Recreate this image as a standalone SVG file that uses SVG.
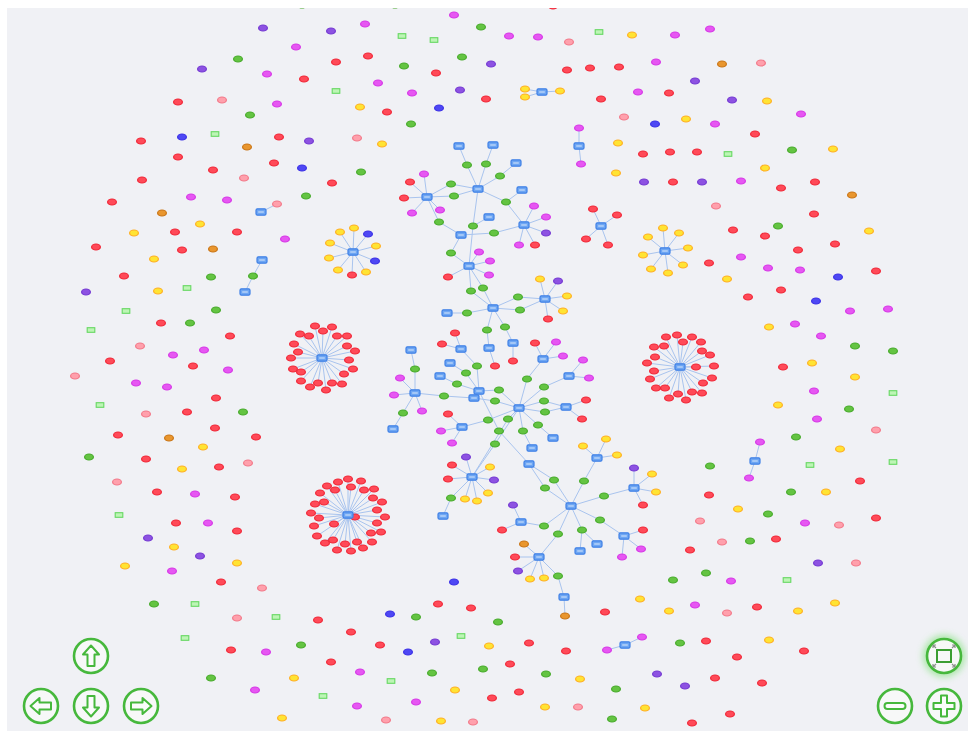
<svg xmlns="http://www.w3.org/2000/svg" width="968" height="731" viewBox="0 0 968 731">
<style>
.e path{stroke:#a9c4ee;stroke-width:1;fill:none}
.btn{fill:#f7f8f8;stroke:#46b83c;stroke-width:2.6}
.ic{fill:#fbfcfb;stroke:#46b83c;stroke-width:2;stroke-linejoin:round}
</style>
<defs>
<clipPath id="cp"><rect x="7" y="8" width="961" height="723"/></clipPath>
<ellipse id="r" rx="4.4" ry="3" fill="#ff4a58" stroke="#f02636" stroke-width="1.2"/>
<ellipse id="m" rx="4.4" ry="3" fill="#e657f2" stroke="#d636e6" stroke-width="1.2"/>
<ellipse id="g" rx="4.4" ry="3" fill="#64c442" stroke="#46aa2a" stroke-width="1.2"/>
<ellipse id="y" rx="4.4" ry="3" fill="#ffe433" stroke="#ffae22" stroke-width="1.2"/>
<ellipse id="p" rx="4.4" ry="3" fill="#8d52e2" stroke="#7338d2" stroke-width="1.2"/>
<ellipse id="b" rx="4.4" ry="3" fill="#4e48f4" stroke="#3a2fe6" stroke-width="1.2"/>
<ellipse id="k" rx="4.4" ry="3" fill="#ffa0ac" stroke="#f27888" stroke-width="1.2"/>
<ellipse id="o" rx="4.4" ry="3" fill="#e9962e" stroke="#c97414" stroke-width="1.2"/>
<rect id="l" x="-3.8" y="-2.3" width="7.6" height="4.6" fill="#bdf5b5" stroke="#66d862" stroke-width="1.1"/>
<g id="x"><rect x="-5" y="-3.2" width="10" height="6.4" rx="1.4" fill="#6ea6f3" stroke="#3f80e6" stroke-width="1.2"/><rect x="-2.8" y="-0.9" width="5.6" height="1.8" fill="#a9cbf8"/></g>
<polygon id="arr" points="0,-10.5 8,-1.5 3.5,-1.5 3.5,10 -3.5,10 -3.5,-1.5 -8,-1.5"/>
<filter id="glow" x="-50%" y="-50%" width="200%" height="200%"><feGaussianBlur stdDeviation="3.5"/></filter>
</defs>
<rect x="0" y="0" width="968" height="731" fill="#ffffff"/>
<rect x="7" y="8" width="961" height="723" fill="#f0f1f5"/>
<g clip-path="url(#cp)">
<g id="connectors" class="e">
<path d="M478 189L467 165M467 165L459 146M478 189L486 164M486 164L493 145M478 189L500 176M500 176L516 163M478 189L506 202M506 202L522 190M506 202L524 225M478 189L451 184M451 184L427 197M478 189L454 196M454 196L427 197M478 189L473 226M473 226L489 217M473 226L469 266"/>
<path d="M427 197L424 174M427 197L410 182M427 197L404 198M427 197L412 213M427 197L440 210M427 197L439 222M439 222L461 235M461 235L494 233M494 233L524 225M461 235L451 253M451 253L469 266"/>
<path d="M524 225L534 206M524 225L546 217M524 225L546 233M524 225L535 245M524 225L519 245M469 266L479 252M469 266L490 261M469 266L489 275M469 266L448 277"/>
<path d="M469 266L471 291M471 291L493 308M469 266L483 288M483 288L493 308M493 308L467 313M467 313L447 313M493 308L518 297M518 297L545 299M493 308L520 310M520 310L545 299"/>
<path d="M545 299L540 279M545 299L558 281M545 299L567 296M545 299L563 311M545 299L548 319M493 308L487 330M487 330L489 348M489 348L495 366M493 308L505 327M505 327L513 343M513 343L513 361"/>
<path d="M461 349L455 333M461 349L442 344M461 349L477 366M477 366L479 391M479 391L466 373M466 373L450 363M479 391L457 384M457 384L440 376M479 391L499 390M499 390L519 408M479 391L474 398M474 398L495 401M495 401L519 408M415 393L444 396M444 396L474 398M479 391L499 431M499 431L529 464"/>
<path d="M519 408L527 379M527 379L543 359M543 359L535 343M543 359L556 342M543 359L563 356M519 408L544 387M544 387L569 376M569 376L583 360M569 376L589 378M519 408L544 401M544 401L566 407M519 408L545 412M545 412L566 407M566 407L586 400M566 407L582 419M519 408L538 425M538 425L553 438M519 408L523 431M523 431L532 448"/>
<path d="M519 408L488 420M488 420L462 427M462 427L448 414M462 427L441 431M462 427L452 443M519 408L508 419M508 419L472 477M519 408L495 444M495 444L472 477"/>
<path d="M415 393L415 369M415 369L411 350M415 393L400 378M415 393L394 395M415 393L422 411M415 393L403 413M403 413L393 429"/>
<path d="M472 477L466 457M472 477L452 465M472 477L448 479M472 477L490 467M472 477L494 480M472 477L488 493M472 477L477 501M472 477L465 499M472 477L451 498M451 498L443 516"/>
<path d="M529 464L554 480M554 480L571 506M529 464L545 488M545 488L571 506M571 506L584 481M584 481L597 458M597 458L583 446M597 458L606 439M597 458L617 455M571 506L604 496M604 496L634 488M634 488L634 468M634 488L652 474M634 488L656 492M634 488L643 505"/>
<path d="M571 506L600 520M600 520L624 536M624 536L643 530M624 536L641 549M624 536L622 557M571 506L582 530M582 530L580 551M582 530L597 544M571 506L558 534M558 534L539 557M571 506L544 526M544 526L521 522M521 522L513 505M521 522L502 530"/>
<path d="M539 557L524 544M539 557L515 557M539 557L518 571M539 557L530 579M539 557L544 578M539 557L558 576M558 576L564 597M564 597L565 616"/>
<path d="M353 252L340 232M353 252L354 228M353 252L368 234M353 252L376 246M353 252L375 261M353 252L366 272M353 252L352 275M353 252L338 270M353 252L329 258M353 252L330 243"/>
<path d="M261 212L277 204M262 260L253 276M253 276L245 292M542 92L525 89M542 92L525 97M542 92L560 91M579 146L579 128M579 146L581 164M601 226L593 209M601 226L617 215M601 226L586 239M601 226L608 245"/>
<path d="M665 251L663 228M665 251L679 233M665 251L648 237M665 251L688 248M665 251L643 255M665 251L683 265M665 251L651 269M665 251L668 273M755 461L760 442M755 461L749 478M625 645L642 637M625 645L607 650"/>
<path d="M322 358L315 326M322 358L323 331M322 358L332 327M322 358L300 334M322 358L309 336M322 358L337 336M322 358L347 336M322 358L294 344M322 358L347 346M322 358L298 352M322 358L355 351M322 358L291 358M322 358L349 360M322 358L293 369M322 358L301 372M322 358L353 369M322 358L344 374M322 358L301 381M322 358L310 387M322 358L318 383M322 358L332 383M322 358L342 384M322 358L326 390"/>
<path d="M348 515L348 479M348 515L338 482M348 515L361 481M348 515L327 486M348 515L351 487M348 515L335 490M348 515L364 490M348 515L374 489M348 515L320 493M348 515L315 504M348 515L324 502M348 515L373 498M348 515L382 502M348 515L311 513M348 515L319 518M348 515L377 510M348 515L385 517M348 515L355 517M348 515L334 524M348 515L314 526M348 515L377 523M348 515L317 536M348 515L371 533M348 515L381 532M348 515L325 543M348 515L333 540M348 515L345 544M348 515L357 542M348 515L372 542M348 515L337 550M348 515L351 551M348 515L363 548"/>
<path d="M680 367L666 337M680 367L677 335M680 367L692 337M680 367L654 347M680 367L664 346M680 367L683 342M680 367L701 342M680 367L655 357M680 367L702 351M680 367L710 355M680 367L647 363M680 367L696 367M680 367L714 366M680 367L654 371M680 367L650 379M680 367L712 378M680 367L703 383M680 367L656 388M680 367L665 388M680 367L692 392M680 367L702 393M680 367L678 394M680 367L669 398M680 367L686 400"/>
</g>
<g id="G1">
<g id="s1"><use href="#r" x="315" y="326"/></g><g id="s2"><use href="#r" x="323" y="331"/></g><g id="s3"><use href="#r" x="332" y="327"/></g><g id="s4"><use href="#r" x="300" y="334"/></g><g id="s5"><use href="#r" x="309" y="336"/></g><g id="s6"><use href="#r" x="337" y="336"/></g><g id="s7"><use href="#r" x="347" y="336"/></g><g id="s8"><use href="#r" x="294" y="344"/></g><g id="s9"><use href="#r" x="347" y="346"/></g><g id="s10"><use href="#r" x="298" y="352"/></g><g id="s11"><use href="#r" x="355" y="351"/></g><g id="s12"><use href="#r" x="291" y="358"/></g><g id="s13"><use href="#r" x="349" y="360"/></g><g id="s14"><use href="#r" x="293" y="369"/></g><g id="s15"><use href="#r" x="301" y="372"/></g><g id="s16"><use href="#r" x="353" y="369"/></g><g id="s17"><use href="#r" x="344" y="374"/></g><g id="s18"><use href="#r" x="301" y="381"/></g><g id="s19"><use href="#r" x="310" y="387"/></g><g id="s20"><use href="#r" x="318" y="383"/></g><g id="s21"><use href="#r" x="332" y="383"/></g><g id="s22"><use href="#r" x="342" y="384"/></g><g id="s23"><use href="#r" x="326" y="390"/></g>
<g id="hub1"><use href="#x" x="322" y="358"/></g>
</g>
<g id="G2">
<g id="t1"><use href="#r" x="348" y="479"/></g><g id="t2"><use href="#r" x="338" y="482"/></g><g id="t3"><use href="#r" x="361" y="481"/></g><g id="t4"><use href="#r" x="327" y="486"/></g><g id="t5"><use href="#r" x="351" y="487"/></g><g id="t6"><use href="#r" x="335" y="490"/></g><g id="t7"><use href="#r" x="364" y="490"/></g><g id="t8"><use href="#r" x="374" y="489"/></g><g id="t9"><use href="#r" x="320" y="493"/></g><g id="t10"><use href="#r" x="315" y="504"/></g><g id="t11"><use href="#r" x="324" y="502"/></g><g id="t12"><use href="#r" x="373" y="498"/></g><g id="t13"><use href="#r" x="382" y="502"/></g><g id="t14"><use href="#r" x="311" y="513"/></g><g id="t15"><use href="#r" x="319" y="518"/></g><g id="t16"><use href="#r" x="377" y="510"/></g><g id="t17"><use href="#r" x="385" y="517"/></g><g id="t18"><use href="#r" x="355" y="517"/></g><g id="t19"><use href="#r" x="334" y="524"/></g><g id="t20"><use href="#r" x="314" y="526"/></g><g id="t21"><use href="#r" x="377" y="523"/></g><g id="t22"><use href="#r" x="317" y="536"/></g><g id="t23"><use href="#r" x="371" y="533"/></g><g id="t24"><use href="#r" x="381" y="532"/></g><g id="t25"><use href="#r" x="325" y="543"/></g><g id="t26"><use href="#r" x="333" y="540"/></g><g id="t27"><use href="#r" x="345" y="544"/></g><g id="t28"><use href="#r" x="357" y="542"/></g><g id="t29"><use href="#r" x="372" y="542"/></g><g id="t30"><use href="#r" x="337" y="550"/></g><g id="t31"><use href="#r" x="351" y="551"/></g><g id="t32"><use href="#r" x="363" y="548"/></g>
<g id="hub2"><use href="#x" x="348" y="515"/></g>
</g>
<g id="G3">
<g id="u1"><use href="#r" x="666" y="337"/></g><g id="u2"><use href="#r" x="677" y="335"/></g><g id="u3"><use href="#r" x="692" y="337"/></g><g id="u4"><use href="#r" x="654" y="347"/></g><g id="u5"><use href="#r" x="664" y="346"/></g><g id="u6"><use href="#r" x="683" y="342"/></g><g id="u7"><use href="#r" x="701" y="342"/></g><g id="u8"><use href="#r" x="655" y="357"/></g><g id="u9"><use href="#r" x="702" y="351"/></g><g id="u10"><use href="#r" x="710" y="355"/></g><g id="u11"><use href="#r" x="647" y="363"/></g><g id="u12"><use href="#r" x="696" y="367"/></g><g id="u13"><use href="#r" x="714" y="366"/></g><g id="u14"><use href="#r" x="654" y="371"/></g><g id="u15"><use href="#r" x="650" y="379"/></g><g id="u16"><use href="#r" x="712" y="378"/></g><g id="u17"><use href="#r" x="703" y="383"/></g><g id="u18"><use href="#r" x="656" y="388"/></g><g id="u19"><use href="#r" x="665" y="388"/></g><g id="u20"><use href="#r" x="692" y="392"/></g><g id="u21"><use href="#r" x="702" y="393"/></g><g id="u22"><use href="#r" x="678" y="394"/></g><g id="u23"><use href="#r" x="669" y="398"/></g><g id="u24"><use href="#r" x="686" y="400"/></g>
<g id="hub3"><use href="#x" x="680" y="367"/></g>
</g>
<g id="clusters">
<g id="c1"><use href="#g" x="467" y="165"/></g><g id="c2"><use href="#g" x="486" y="164"/></g><g id="c3"><use href="#g" x="500" y="176"/></g><g id="c4"><use href="#g" x="506" y="202"/></g><g id="c5"><use href="#g" x="473" y="226"/></g>
<g id="c6"><use href="#x" x="459" y="146"/></g><g id="c7"><use href="#x" x="493" y="145"/></g><g id="c8"><use href="#x" x="516" y="163"/></g><g id="c9"><use href="#x" x="522" y="190"/></g><g id="c10"><use href="#x" x="489" y="217"/></g><g id="c11"><use href="#x" x="478" y="189"/></g>
<g id="c12"><use href="#m" x="424" y="174"/></g><g id="c13"><use href="#r" x="410" y="182"/></g><g id="c14"><use href="#r" x="404" y="198"/></g><g id="c15"><use href="#m" x="412" y="213"/></g><g id="c16"><use href="#m" x="440" y="210"/></g><g id="c17"><use href="#g" x="451" y="184"/></g><g id="c18"><use href="#g" x="454" y="196"/></g><g id="c19"><use href="#g" x="439" y="222"/></g><g id="c20"><use href="#x" x="427" y="197"/></g>
<g id="c21"><use href="#m" x="534" y="206"/></g><g id="c22"><use href="#m" x="546" y="217"/></g><g id="c23"><use href="#p" x="546" y="233"/></g><g id="c24"><use href="#r" x="535" y="245"/></g><g id="c25"><use href="#m" x="519" y="245"/></g><g id="c26"><use href="#g" x="494" y="233"/></g><g id="c27"><use href="#x" x="524" y="225"/></g>
<g id="c28"><use href="#g" x="451" y="253"/></g><g id="c29"><use href="#x" x="461" y="235"/></g>
<g id="c30"><use href="#m" x="479" y="252"/></g><g id="c31"><use href="#m" x="490" y="261"/></g><g id="c32"><use href="#m" x="489" y="275"/></g><g id="c33"><use href="#r" x="448" y="277"/></g><g id="c34"><use href="#x" x="469" y="266"/></g>
<g id="c35"><use href="#g" x="471" y="291"/></g><g id="c36"><use href="#g" x="483" y="288"/></g><g id="c37"><use href="#g" x="467" y="313"/></g><g id="c38"><use href="#x" x="447" y="313"/></g><g id="c39"><use href="#g" x="518" y="297"/></g><g id="c40"><use href="#g" x="520" y="310"/></g>
<g id="c41"><use href="#y" x="540" y="279"/></g><g id="c42"><use href="#p" x="558" y="281"/></g><g id="c43"><use href="#y" x="567" y="296"/></g><g id="c44"><use href="#y" x="563" y="311"/></g><g id="c45"><use href="#r" x="548" y="319"/></g><g id="c46"><use href="#x" x="545" y="299"/></g>
<g id="c47"><use href="#g" x="487" y="330"/></g><g id="c48"><use href="#x" x="489" y="348"/></g><g id="c49"><use href="#r" x="495" y="366"/></g><g id="c50"><use href="#g" x="505" y="327"/></g><g id="c51"><use href="#x" x="513" y="343"/></g><g id="c52"><use href="#r" x="513" y="361"/></g><g id="c53"><use href="#x" x="493" y="308"/></g>
<g id="c54"><use href="#r" x="455" y="333"/></g><g id="c55"><use href="#r" x="442" y="344"/></g><g id="c56"><use href="#x" x="461" y="349"/></g><g id="c57"><use href="#g" x="477" y="366"/></g>
<g id="c58"><use href="#g" x="466" y="373"/></g><g id="c59"><use href="#x" x="450" y="363"/></g><g id="c60"><use href="#g" x="457" y="384"/></g><g id="c61"><use href="#x" x="440" y="376"/></g><g id="c62"><use href="#g" x="499" y="390"/></g><g id="c63"><use href="#x" x="474" y="398"/></g><g id="c64"><use href="#g" x="495" y="401"/></g><g id="c65"><use href="#g" x="444" y="396"/></g><g id="c66"><use href="#g" x="499" y="431"/></g><g id="c67"><use href="#x" x="529" y="464"/></g><g id="c68"><use href="#x" x="479" y="391"/></g>
<g id="c69"><use href="#g" x="527" y="379"/></g><g id="c70"><use href="#x" x="543" y="359"/></g><g id="c71"><use href="#r" x="535" y="343"/></g><g id="c72"><use href="#m" x="556" y="342"/></g><g id="c73"><use href="#m" x="563" y="356"/></g><g id="c74"><use href="#g" x="544" y="387"/></g><g id="c75"><use href="#x" x="569" y="376"/></g><g id="c76"><use href="#m" x="583" y="360"/></g><g id="c77"><use href="#m" x="589" y="378"/></g>
<g id="c78"><use href="#g" x="544" y="401"/></g><g id="c79"><use href="#g" x="545" y="412"/></g><g id="c80"><use href="#x" x="566" y="407"/></g><g id="c81"><use href="#r" x="586" y="400"/></g><g id="c82"><use href="#r" x="582" y="419"/></g><g id="c83"><use href="#g" x="538" y="425"/></g><g id="c84"><use href="#x" x="553" y="438"/></g><g id="c85"><use href="#g" x="523" y="431"/></g><g id="c86"><use href="#x" x="532" y="448"/></g>
<g id="c87"><use href="#g" x="488" y="420"/></g><g id="c88"><use href="#x" x="462" y="427"/></g><g id="c89"><use href="#r" x="448" y="414"/></g><g id="c90"><use href="#m" x="441" y="431"/></g><g id="c91"><use href="#m" x="452" y="443"/></g><g id="c92"><use href="#g" x="508" y="419"/></g><g id="c93"><use href="#g" x="495" y="444"/></g><g id="c94"><use href="#x" x="519" y="408"/></g>
<g id="c95"><use href="#x" x="411" y="350"/></g><g id="c96"><use href="#g" x="415" y="369"/></g><g id="c97"><use href="#m" x="400" y="378"/></g><g id="c98"><use href="#m" x="394" y="395"/></g><g id="c99"><use href="#m" x="422" y="411"/></g><g id="c100"><use href="#g" x="403" y="413"/></g><g id="c101"><use href="#x" x="393" y="429"/></g><g id="c102"><use href="#x" x="415" y="393"/></g>
<g id="c103"><use href="#p" x="466" y="457"/></g><g id="c104"><use href="#r" x="452" y="465"/></g><g id="c105"><use href="#r" x="448" y="479"/></g><g id="c106"><use href="#y" x="490" y="467"/></g><g id="c107"><use href="#p" x="494" y="480"/></g><g id="c108"><use href="#y" x="488" y="493"/></g><g id="c109"><use href="#y" x="477" y="501"/></g><g id="c110"><use href="#y" x="465" y="499"/></g><g id="c111"><use href="#g" x="451" y="498"/></g><g id="c112"><use href="#x" x="443" y="516"/></g><g id="c113"><use href="#x" x="472" y="477"/></g>
<g id="c114"><use href="#g" x="554" y="480"/></g><g id="c115"><use href="#g" x="545" y="488"/></g><g id="c116"><use href="#g" x="584" y="481"/></g><g id="c117"><use href="#x" x="597" y="458"/></g><g id="c118"><use href="#y" x="583" y="446"/></g><g id="c119"><use href="#y" x="606" y="439"/></g><g id="c120"><use href="#y" x="617" y="455"/></g>
<g id="c121"><use href="#g" x="604" y="496"/></g><g id="c122"><use href="#x" x="634" y="488"/></g><g id="c123"><use href="#p" x="634" y="468"/></g><g id="c124"><use href="#y" x="652" y="474"/></g><g id="c125"><use href="#y" x="656" y="492"/></g><g id="c126"><use href="#r" x="643" y="505"/></g>
<g id="c127"><use href="#g" x="600" y="520"/></g><g id="c128"><use href="#x" x="624" y="536"/></g><g id="c129"><use href="#r" x="643" y="530"/></g><g id="c130"><use href="#m" x="641" y="549"/></g><g id="c131"><use href="#m" x="622" y="557"/></g>
<g id="c132"><use href="#g" x="582" y="530"/></g><g id="c133"><use href="#x" x="580" y="551"/></g><g id="c134"><use href="#x" x="597" y="544"/></g><g id="c135"><use href="#g" x="558" y="534"/></g><g id="c136"><use href="#g" x="544" y="526"/></g><g id="c137"><use href="#x" x="521" y="522"/></g><g id="c138"><use href="#p" x="513" y="505"/></g><g id="c139"><use href="#r" x="502" y="530"/></g><g id="c140"><use href="#x" x="571" y="506"/></g>
<g id="c141"><use href="#o" x="524" y="544"/></g><g id="c142"><use href="#r" x="515" y="557"/></g><g id="c143"><use href="#p" x="518" y="571"/></g><g id="c144"><use href="#y" x="530" y="579"/></g><g id="c145"><use href="#y" x="544" y="578"/></g><g id="c146"><use href="#g" x="558" y="576"/></g><g id="c147"><use href="#x" x="564" y="597"/></g><g id="c148"><use href="#o" x="565" y="616"/></g><g id="c149"><use href="#x" x="539" y="557"/></g>
<g id="f1"><use href="#y" x="340" y="232"/></g><g id="f2"><use href="#y" x="354" y="228"/></g><g id="f3"><use href="#b" x="368" y="234"/></g><g id="f4"><use href="#y" x="376" y="246"/></g><g id="f5"><use href="#b" x="375" y="261"/></g><g id="f6"><use href="#y" x="366" y="272"/></g><g id="f7"><use href="#r" x="352" y="275"/></g><g id="f8"><use href="#y" x="338" y="270"/></g><g id="f9"><use href="#y" x="329" y="258"/></g><g id="f10"><use href="#y" x="330" y="243"/></g><g id="f11"><use href="#x" x="353" y="252"/></g>
<g id="d1"><use href="#k" x="277" y="204"/></g><g id="d2"><use href="#x" x="261" y="212"/></g><g id="d3"><use href="#x" x="262" y="260"/></g><g id="d4"><use href="#g" x="253" y="276"/></g><g id="d5"><use href="#x" x="245" y="292"/></g>
<g id="d6"><use href="#y" x="525" y="89"/></g><g id="d7"><use href="#y" x="525" y="97"/></g><g id="d8"><use href="#y" x="560" y="91"/></g><g id="d9"><use href="#x" x="542" y="92"/></g>
<g id="d10"><use href="#m" x="579" y="128"/></g><g id="d11"><use href="#m" x="581" y="164"/></g><g id="d12"><use href="#x" x="579" y="146"/></g>
<g id="d13"><use href="#r" x="593" y="209"/></g><g id="d14"><use href="#r" x="617" y="215"/></g><g id="d15"><use href="#r" x="586" y="239"/></g><g id="d16"><use href="#r" x="608" y="245"/></g><g id="d17"><use href="#x" x="601" y="226"/></g>
<g id="d18"><use href="#y" x="663" y="228"/></g><g id="d19"><use href="#y" x="679" y="233"/></g><g id="d20"><use href="#y" x="648" y="237"/></g><g id="d21"><use href="#y" x="688" y="248"/></g><g id="d22"><use href="#y" x="643" y="255"/></g><g id="d23"><use href="#y" x="683" y="265"/></g><g id="d24"><use href="#y" x="651" y="269"/></g><g id="d25"><use href="#y" x="668" y="273"/></g><g id="d26"><use href="#x" x="665" y="251"/></g>
<g id="d27"><use href="#m" x="760" y="442"/></g><g id="d28"><use href="#m" x="749" y="478"/></g><g id="d29"><use href="#x" x="755" y="461"/></g>
<g id="d30"><use href="#m" x="642" y="637"/></g><g id="d31"><use href="#m" x="607" y="650"/></g><g id="d32"><use href="#x" x="625" y="645"/></g>
</g>
<g id="scatter">
<g id="a1"><use href="#g" x="302" y="5"/></g><g id="a2"><use href="#g" x="395" y="5"/></g><g id="a3"><use href="#r" x="553" y="6"/></g><g id="a4"><use href="#m" x="454" y="15"/></g><g id="a5"><use href="#p" x="263" y="28"/></g><g id="a6"><use href="#m" x="365" y="24"/></g><g id="a7"><use href="#g" x="481" y="27"/></g><g id="a8"><use href="#p" x="331" y="31"/></g><g id="a9"><use href="#l" x="402" y="36"/></g><g id="a10"><use href="#l" x="434" y="40"/></g>
<g id="a11"><use href="#m" x="509" y="36"/></g><g id="a12"><use href="#m" x="538" y="37"/></g><g id="a13"><use href="#k" x="569" y="42"/></g><g id="a14"><use href="#l" x="599" y="32"/></g><g id="a15"><use href="#y" x="632" y="35"/></g><g id="a16"><use href="#m" x="675" y="35"/></g><g id="a17"><use href="#m" x="710" y="29"/></g><g id="a18"><use href="#m" x="296" y="47"/></g><g id="a19"><use href="#r" x="368" y="56"/></g><g id="a20"><use href="#g" x="238" y="59"/></g>
<g id="a21"><use href="#r" x="336" y="62"/></g><g id="a22"><use href="#g" x="462" y="57"/></g><g id="a23"><use href="#p" x="491" y="64"/></g><g id="a24"><use href="#g" x="404" y="66"/></g><g id="a25"><use href="#r" x="436" y="73"/></g><g id="a26"><use href="#p" x="202" y="69"/></g><g id="a27"><use href="#m" x="267" y="74"/></g><g id="a28"><use href="#r" x="304" y="79"/></g><g id="a29"><use href="#r" x="567" y="70"/></g><g id="a30"><use href="#r" x="590" y="68"/></g>
<g id="a31"><use href="#r" x="619" y="67"/></g><g id="a32"><use href="#m" x="656" y="62"/></g><g id="a33"><use href="#o" x="722" y="64"/></g><g id="a34"><use href="#k" x="761" y="63"/></g><g id="a35"><use href="#m" x="378" y="83"/></g><g id="a36"><use href="#p" x="460" y="90"/></g><g id="a37"><use href="#m" x="412" y="93"/></g><g id="a38"><use href="#l" x="336" y="91"/></g><g id="a39"><use href="#r" x="486" y="99"/></g><g id="a40"><use href="#b" x="439" y="108"/></g>
<g id="a41"><use href="#y" x="360" y="107"/></g><g id="a42"><use href="#r" x="387" y="112"/></g><g id="a43"><use href="#m" x="277" y="104"/></g><g id="a44"><use href="#k" x="222" y="100"/></g><g id="a45"><use href="#r" x="178" y="102"/></g><g id="a46"><use href="#g" x="250" y="115"/></g><g id="a47"><use href="#r" x="601" y="99"/></g><g id="a48"><use href="#m" x="638" y="92"/></g><g id="a49"><use href="#r" x="669" y="93"/></g><g id="a50"><use href="#p" x="695" y="81"/></g>
<g id="a51"><use href="#p" x="732" y="100"/></g><g id="a52"><use href="#y" x="767" y="101"/></g><g id="a53"><use href="#m" x="801" y="114"/></g><g id="a54"><use href="#k" x="624" y="117"/></g><g id="a55"><use href="#b" x="655" y="124"/></g><g id="a56"><use href="#y" x="686" y="119"/></g><g id="a57"><use href="#m" x="715" y="124"/></g><g id="a58"><use href="#r" x="755" y="134"/></g><g id="a59"><use href="#g" x="411" y="124"/></g><g id="a60"><use href="#l" x="215" y="134"/></g>
<g id="a61"><use href="#b" x="182" y="137"/></g><g id="a62"><use href="#r" x="141" y="141"/></g><g id="a63"><use href="#r" x="279" y="137"/></g><g id="a64"><use href="#p" x="309" y="141"/></g><g id="a65"><use href="#k" x="357" y="138"/></g><g id="a66"><use href="#y" x="382" y="144"/></g><g id="a67"><use href="#o" x="247" y="147"/></g><g id="a68"><use href="#y" x="618" y="143"/></g><g id="a69"><use href="#r" x="643" y="154"/></g><g id="a70"><use href="#r" x="670" y="152"/></g>
<g id="a71"><use href="#r" x="697" y="152"/></g><g id="a72"><use href="#l" x="728" y="154"/></g><g id="a73"><use href="#g" x="792" y="150"/></g><g id="a74"><use href="#y" x="833" y="149"/></g><g id="a75"><use href="#r" x="178" y="157"/></g><g id="a76"><use href="#r" x="213" y="170"/></g><g id="a77"><use href="#r" x="274" y="163"/></g><g id="a78"><use href="#b" x="302" y="168"/></g><g id="a79"><use href="#g" x="361" y="172"/></g><g id="a80"><use href="#y" x="616" y="173"/></g>
<g id="a81"><use href="#p" x="644" y="182"/></g><g id="a82"><use href="#r" x="673" y="182"/></g><g id="a83"><use href="#p" x="702" y="182"/></g><g id="a84"><use href="#m" x="741" y="181"/></g><g id="a85"><use href="#y" x="765" y="168"/></g><g id="a86"><use href="#r" x="815" y="182"/></g><g id="a87"><use href="#r" x="781" y="188"/></g><g id="a88"><use href="#o" x="852" y="195"/></g><g id="a89"><use href="#r" x="142" y="180"/></g><g id="a90"><use href="#k" x="244" y="178"/></g>
<g id="a91"><use href="#r" x="332" y="183"/></g><g id="a92"><use href="#m" x="191" y="197"/></g><g id="a93"><use href="#m" x="227" y="200"/></g><g id="a94"><use href="#g" x="306" y="196"/></g><g id="a95"><use href="#r" x="112" y="202"/></g><g id="a96"><use href="#k" x="716" y="206"/></g><g id="a97"><use href="#r" x="814" y="214"/></g><g id="a98"><use href="#g" x="778" y="226"/></g><g id="a99"><use href="#r" x="733" y="230"/></g><g id="a100"><use href="#r" x="765" y="236"/></g>
<g id="a101"><use href="#y" x="869" y="231"/></g><g id="a102"><use href="#r" x="835" y="244"/></g><g id="a103"><use href="#r" x="798" y="250"/></g><g id="a104"><use href="#o" x="162" y="213"/></g><g id="a105"><use href="#y" x="200" y="224"/></g><g id="a106"><use href="#r" x="237" y="232"/></g><g id="a107"><use href="#y" x="134" y="233"/></g><g id="a108"><use href="#r" x="175" y="232"/></g><g id="a109"><use href="#m" x="285" y="239"/></g><g id="a110"><use href="#r" x="96" y="247"/></g>
<g id="a111"><use href="#r" x="182" y="250"/></g><g id="a112"><use href="#o" x="213" y="249"/></g><g id="a113"><use href="#y" x="154" y="259"/></g><g id="a114"><use href="#m" x="741" y="257"/></g><g id="a115"><use href="#r" x="709" y="263"/></g><g id="a116"><use href="#m" x="768" y="268"/></g><g id="a117"><use href="#m" x="800" y="270"/></g><g id="a118"><use href="#b" x="838" y="277"/></g><g id="a119"><use href="#r" x="876" y="271"/></g><g id="a120"><use href="#y" x="727" y="279"/></g>
<g id="a121"><use href="#r" x="124" y="276"/></g><g id="a122"><use href="#g" x="211" y="277"/></g><g id="a123"><use href="#p" x="86" y="292"/></g><g id="a124"><use href="#y" x="158" y="291"/></g><g id="a125"><use href="#l" x="187" y="288"/></g><g id="a126"><use href="#r" x="748" y="297"/></g><g id="a127"><use href="#r" x="781" y="290"/></g><g id="a128"><use href="#b" x="816" y="301"/></g><g id="a129"><use href="#m" x="850" y="311"/></g><g id="a130"><use href="#m" x="888" y="309"/></g>
<g id="a131"><use href="#g" x="216" y="310"/></g><g id="a132"><use href="#l" x="126" y="311"/></g><g id="a133"><use href="#r" x="161" y="323"/></g><g id="a134"><use href="#g" x="190" y="323"/></g><g id="a135"><use href="#l" x="91" y="330"/></g><g id="a136"><use href="#r" x="230" y="336"/></g><g id="a137"><use href="#y" x="769" y="327"/></g><g id="a138"><use href="#m" x="795" y="324"/></g><g id="a139"><use href="#m" x="821" y="336"/></g><g id="a140"><use href="#g" x="855" y="346"/></g>
<g id="a141"><use href="#g" x="893" y="351"/></g><g id="a142"><use href="#k" x="140" y="346"/></g><g id="a143"><use href="#m" x="173" y="355"/></g><g id="a144"><use href="#m" x="204" y="350"/></g><g id="a145"><use href="#r" x="110" y="361"/></g><g id="a146"><use href="#r" x="193" y="366"/></g><g id="a147"><use href="#m" x="228" y="370"/></g><g id="a148"><use href="#r" x="783" y="367"/></g><g id="a149"><use href="#y" x="812" y="363"/></g><g id="a150"><use href="#y" x="855" y="377"/></g>
<g id="a151"><use href="#k" x="75" y="376"/></g><g id="a152"><use href="#m" x="136" y="383"/></g><g id="a153"><use href="#m" x="167" y="387"/></g><g id="a154"><use href="#m" x="814" y="391"/></g><g id="a155"><use href="#l" x="893" y="393"/></g><g id="a156"><use href="#r" x="216" y="398"/></g><g id="a157"><use href="#l" x="100" y="405"/></g><g id="a158"><use href="#r" x="187" y="412"/></g><g id="a159"><use href="#g" x="243" y="412"/></g><g id="a160"><use href="#k" x="146" y="414"/></g>
<g id="a161"><use href="#y" x="778" y="405"/></g><g id="a162"><use href="#g" x="849" y="409"/></g><g id="a163"><use href="#m" x="817" y="419"/></g><g id="a164"><use href="#k" x="876" y="430"/></g><g id="a165"><use href="#r" x="118" y="435"/></g><g id="a166"><use href="#o" x="169" y="438"/></g><g id="a167"><use href="#r" x="215" y="428"/></g><g id="a168"><use href="#r" x="256" y="437"/></g><g id="a169"><use href="#y" x="203" y="447"/></g><g id="a170"><use href="#g" x="796" y="437"/></g>
<g id="a171"><use href="#y" x="840" y="449"/></g><g id="a172"><use href="#g" x="89" y="457"/></g><g id="a173"><use href="#r" x="146" y="459"/></g><g id="a174"><use href="#r" x="219" y="467"/></g><g id="a175"><use href="#k" x="248" y="463"/></g><g id="a176"><use href="#y" x="182" y="469"/></g><g id="a177"><use href="#l" x="810" y="465"/></g><g id="a178"><use href="#l" x="893" y="462"/></g><g id="a179"><use href="#r" x="860" y="481"/></g><g id="a180"><use href="#g" x="710" y="466"/></g>
<g id="a181"><use href="#k" x="117" y="482"/></g><g id="a182"><use href="#m" x="195" y="494"/></g><g id="a183"><use href="#r" x="157" y="492"/></g><g id="a184"><use href="#r" x="235" y="497"/></g><g id="a185"><use href="#r" x="709" y="495"/></g><g id="a186"><use href="#g" x="791" y="492"/></g><g id="a187"><use href="#y" x="826" y="492"/></g><g id="a188"><use href="#l" x="119" y="515"/></g><g id="a189"><use href="#r" x="176" y="523"/></g><g id="a190"><use href="#m" x="208" y="523"/></g>
<g id="a191"><use href="#r" x="237" y="531"/></g><g id="a192"><use href="#y" x="738" y="509"/></g><g id="a193"><use href="#g" x="768" y="514"/></g><g id="a194"><use href="#k" x="700" y="521"/></g><g id="a195"><use href="#m" x="805" y="523"/></g><g id="a196"><use href="#k" x="839" y="525"/></g><g id="a197"><use href="#r" x="876" y="518"/></g><g id="a198"><use href="#p" x="148" y="538"/></g><g id="a199"><use href="#y" x="174" y="547"/></g><g id="a200"><use href="#p" x="200" y="556"/></g>
<g id="a201"><use href="#r" x="690" y="550"/></g><g id="a202"><use href="#k" x="722" y="542"/></g><g id="a203"><use href="#g" x="750" y="541"/></g><g id="a204"><use href="#r" x="776" y="539"/></g><g id="a205"><use href="#y" x="125" y="566"/></g><g id="a206"><use href="#y" x="237" y="563"/></g><g id="a207"><use href="#m" x="172" y="571"/></g><g id="a208"><use href="#p" x="818" y="563"/></g><g id="a209"><use href="#k" x="856" y="563"/></g><g id="a210"><use href="#g" x="706" y="573"/></g>
<g id="a211"><use href="#g" x="673" y="580"/></g><g id="a212"><use href="#m" x="731" y="581"/></g><g id="a213"><use href="#l" x="787" y="580"/></g><g id="a214"><use href="#r" x="221" y="582"/></g><g id="a215"><use href="#k" x="262" y="588"/></g><g id="a216"><use href="#g" x="154" y="604"/></g><g id="a217"><use href="#l" x="195" y="604"/></g><g id="a218"><use href="#y" x="640" y="599"/></g><g id="a219"><use href="#y" x="669" y="611"/></g><g id="a220"><use href="#m" x="695" y="605"/></g>
<g id="a221"><use href="#k" x="727" y="613"/></g><g id="a222"><use href="#r" x="757" y="607"/></g><g id="a223"><use href="#y" x="798" y="611"/></g><g id="a224"><use href="#y" x="835" y="603"/></g><g id="a225"><use href="#r" x="605" y="612"/></g><g id="a226"><use href="#k" x="237" y="618"/></g><g id="a227"><use href="#l" x="276" y="617"/></g><g id="a228"><use href="#r" x="318" y="620"/></g><g id="a229"><use href="#r" x="471" y="608"/></g><g id="a230"><use href="#r" x="438" y="604"/></g>
<g id="a231"><use href="#b" x="454" y="582"/></g><g id="a232"><use href="#l" x="185" y="638"/></g><g id="a233"><use href="#r" x="351" y="632"/></g><g id="a234"><use href="#b" x="390" y="614"/></g><g id="a235"><use href="#g" x="416" y="617"/></g><g id="a236"><use href="#g" x="498" y="622"/></g><g id="a237"><use href="#r" x="231" y="650"/></g><g id="a238"><use href="#m" x="266" y="652"/></g><g id="a239"><use href="#g" x="301" y="645"/></g><g id="a240"><use href="#r" x="380" y="645"/></g>
<g id="a241"><use href="#b" x="408" y="652"/></g><g id="a242"><use href="#p" x="435" y="642"/></g><g id="a243"><use href="#l" x="461" y="636"/></g><g id="a244"><use href="#y" x="489" y="646"/></g><g id="a245"><use href="#r" x="529" y="643"/></g><g id="a246"><use href="#r" x="566" y="651"/></g><g id="a247"><use href="#g" x="680" y="643"/></g><g id="a248"><use href="#r" x="706" y="641"/></g><g id="a249"><use href="#r" x="737" y="657"/></g><g id="a250"><use href="#y" x="769" y="640"/></g>
<g id="a251"><use href="#r" x="804" y="651"/></g><g id="a252"><use href="#g" x="211" y="678"/></g><g id="a253"><use href="#y" x="294" y="678"/></g><g id="a254"><use href="#r" x="331" y="662"/></g><g id="a255"><use href="#m" x="360" y="672"/></g><g id="a256"><use href="#l" x="391" y="681"/></g><g id="a257"><use href="#g" x="432" y="673"/></g><g id="a258"><use href="#g" x="483" y="669"/></g><g id="a259"><use href="#r" x="510" y="664"/></g><g id="a260"><use href="#g" x="546" y="674"/></g>
<g id="a261"><use href="#y" x="580" y="679"/></g><g id="a262"><use href="#g" x="616" y="689"/></g><g id="a263"><use href="#p" x="657" y="674"/></g><g id="a264"><use href="#p" x="685" y="686"/></g><g id="a265"><use href="#r" x="715" y="678"/></g><g id="a266"><use href="#r" x="762" y="683"/></g><g id="a267"><use href="#m" x="255" y="690"/></g><g id="a268"><use href="#l" x="323" y="696"/></g><g id="a269"><use href="#y" x="455" y="690"/></g><g id="a270"><use href="#r" x="519" y="692"/></g>
<g id="a271"><use href="#r" x="492" y="698"/></g><g id="a272"><use href="#m" x="416" y="702"/></g><g id="a273"><use href="#m" x="357" y="706"/></g><g id="a274"><use href="#y" x="545" y="707"/></g><g id="a275"><use href="#k" x="578" y="707"/></g><g id="a276"><use href="#y" x="645" y="708"/></g><g id="a277"><use href="#r" x="730" y="714"/></g><g id="a278"><use href="#r" x="692" y="723"/></g><g id="a279"><use href="#g" x="612" y="719"/></g><g id="a280"><use href="#y" x="282" y="718"/></g>
<g id="a281"><use href="#k" x="386" y="720"/></g><g id="a282"><use href="#y" x="441" y="721"/></g><g id="a283"><use href="#k" x="473" y="722"/></g>
</g>
</g>
<g id="controls">
<g id="btn-up"><circle class="btn" cx="91" cy="656" r="17"/><use class="ic" href="#arr" transform="translate(91,656)"/></g>
<g id="btn-left"><circle class="btn" cx="41" cy="706" r="17"/><use class="ic" href="#arr" transform="translate(41,706) rotate(-90)"/></g>
<g id="btn-down"><circle class="btn" cx="91" cy="706" r="17"/><use class="ic" href="#arr" transform="translate(91,706) rotate(180)"/></g>
<g id="btn-right"><circle class="btn" cx="141" cy="706" r="17"/><use class="ic" href="#arr" transform="translate(141,706) rotate(90)"/></g>
<g id="btn-fit"><circle cx="944" cy="656" r="21" fill="#8fe38a" opacity="0.75" filter="url(#glow)"/><circle class="btn" cx="944" cy="656" r="17"/><rect x="937" y="650" width="14" height="12" fill="none" stroke="#3c9e33" stroke-width="2"/><path d="M936 648l-3-3M933 645v3M933 645h3M952 648l3-3M955 645v3M955 645h-3M936 664l-3 3M933 667v-3M933 667h3M952 664l3 3M955 667v-3M955 667h-3" stroke="#8a8f8a" stroke-width="1.2" fill="none"/></g>
<g id="btn-minus"><circle class="btn" cx="895" cy="706" r="17"/><rect class="ic" x="884.5" y="703" width="21" height="6" rx="3"/></g>
<g id="btn-plus"><circle class="btn" cx="944" cy="706" r="17"/><polygon class="ic" points="941,695.5 947,695.5 947,703 954.5,703 954.5,709 947,709 947,716.5 941,716.5 941,709 933.5,709 933.5,703 941,703"/></g>
</g>
</svg>
